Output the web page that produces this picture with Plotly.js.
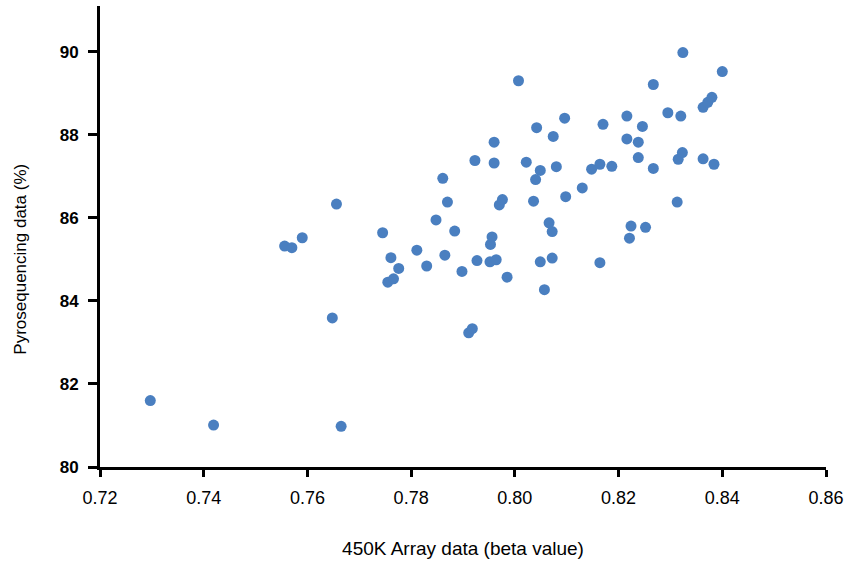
<!DOCTYPE html>
<html>
<head>
<meta charset="utf-8">
<script src="https://cdn.plot.ly/plotly-3.0.1.min.js"></script>
<style>html,body{margin:0;padding:0;background:#fff;}#chart{width:852px;height:567px;}</style>
</head>
<body>
<div id="chart"></div>
<script>
// 450K array beta values (x) and pyrosequencing percentages (y)
const arrayBeta = [
  0.7297, 0.7419, 0.7665, 0.7648, 0.7656, 0.7556, 0.7570, 0.7590, 0.7745, 0.7761,
  0.7776, 0.7755, 0.7766, 0.7811, 0.7830, 0.7848, 0.7861, 0.7870, 0.7865, 0.7884,
  0.7898, 0.7911, 0.7918, 0.7923, 0.7927, 0.7952, 0.7964, 0.7953, 0.7956, 0.7960,
  0.7960, 0.7970, 0.7976, 0.7985, 0.8007, 0.8022, 0.8036, 0.8040, 0.8042, 0.8049,
  0.8049, 0.8057, 0.8066, 0.8072, 0.8072, 0.8074, 0.8080, 0.8096, 0.8098, 0.8130,
  0.8148, 0.8164, 0.8164, 0.8170, 0.8187, 0.8216, 0.8216, 0.8221, 0.8224, 0.8238,
  0.8238, 0.8246, 0.8252, 0.8267, 0.8267, 0.8295, 0.8313, 0.8315, 0.8320, 0.8323,
  0.8324, 0.8363, 0.8372, 0.8380, 0.8363, 0.8384, 0.8400
];
const pyroPercent = [
  81.60, 81.01, 80.98, 83.59, 86.33, 85.32, 85.28, 85.52, 85.64, 85.04,
  84.78, 84.45, 84.53, 85.22, 84.84, 85.95, 86.95, 86.38, 85.10, 85.68,
  84.71, 83.23, 83.33, 87.38, 84.97, 84.94, 84.99, 85.36, 85.54, 87.82,
  87.32, 86.31, 86.44, 84.57, 89.30, 87.34, 86.40, 86.92, 88.17, 87.14,
  84.94, 84.27, 85.88, 85.67, 85.03, 87.96, 87.23, 88.40, 86.51, 86.72,
  87.17, 87.29, 84.92, 88.25, 87.24, 88.45, 87.90, 85.51, 85.80, 87.82,
  87.45, 88.20, 85.77, 89.21, 87.19, 88.53, 86.38, 87.41, 88.45, 87.57,
  89.98, 88.66, 88.78, 88.90, 87.42, 87.29, 89.52
];
const xTickVals = [0.72, 0.74, 0.76, 0.78, 0.80, 0.82, 0.84, 0.86];
const xTickText = ['0.72', '0.74', '0.76', '0.78', '0.80', '0.82', '0.84', '0.86'];
const yTickVals = [80, 82, 84, 86, 88, 90];
const yTickText = ['80', '82', '84', '86', '88', '90'];
const xTitle = '450K Array data (beta value)';
const yTitle = 'Pyrosequencing data (%)';

const fontFam = 'Liberation Sans Narrow, Liberation Sans, Arial, sans-serif';

const trace = {
  type: 'scatter',
  mode: 'markers',
  x: arrayBeta,
  y: pyroPercent,
  marker: {color: '#4a7fc0', size: 11, line: {width: 0}},
  hoverinfo: 'x+y'
};

const layout = {
  width: 852,
  height: 567,
  margin: {l: 100, r: 26, t: 6, b: 100, pad: 0},
  paper_bgcolor: '#ffffff',
  plot_bgcolor: '#ffffff',
  showlegend: false,
  xaxis: {
    range: [0.72, 0.86],
    tickmode: 'array',
    tickvals: xTickVals,
    ticktext: xTickText,
    showgrid: false,
    zeroline: false,
    showline: true,
    linecolor: '#000',
    linewidth: 3,
    ticks: 'outside',
    ticklen: 7,
    tickwidth: 3,
    tickcolor: '#000',
    ticklabelstandoff: 5,
    tickfont: {family: fontFam, size: 18, color: '#000'},
    title: {text: xTitle, font: {family: fontFam, size: 19, color: '#000'}, standoff: 36}
  },
  yaxis: {
    range: [80, 91.1],
    tickmode: 'array',
    tickvals: yTickVals,
    ticktext: yTickText,
    showgrid: false,
    zeroline: false,
    showline: true,
    linecolor: '#000',
    linewidth: 3,
    ticks: 'outside',
    ticklen: 9,
    tickwidth: 3,
    tickcolor: '#000',
    ticklabelstandoff: 6,
    tickfont: {family: fontFam, size: 17, color: '#000', weight: 'bold'}
  },
  annotations: [{
    text: yTitle,
    xref: 'paper', yref: 'paper',
    x: -0.11, y: 0.45,
    xanchor: 'center', yanchor: 'middle',
    textangle: -90,
    showarrow: false,
    font: {family: fontFam, size: 17, color: '#000'}
  }]
};

Plotly.newPlot('chart', [trace], layout, {displayModeBar: false, staticPlot: true});
</script>
</body>
</html>
